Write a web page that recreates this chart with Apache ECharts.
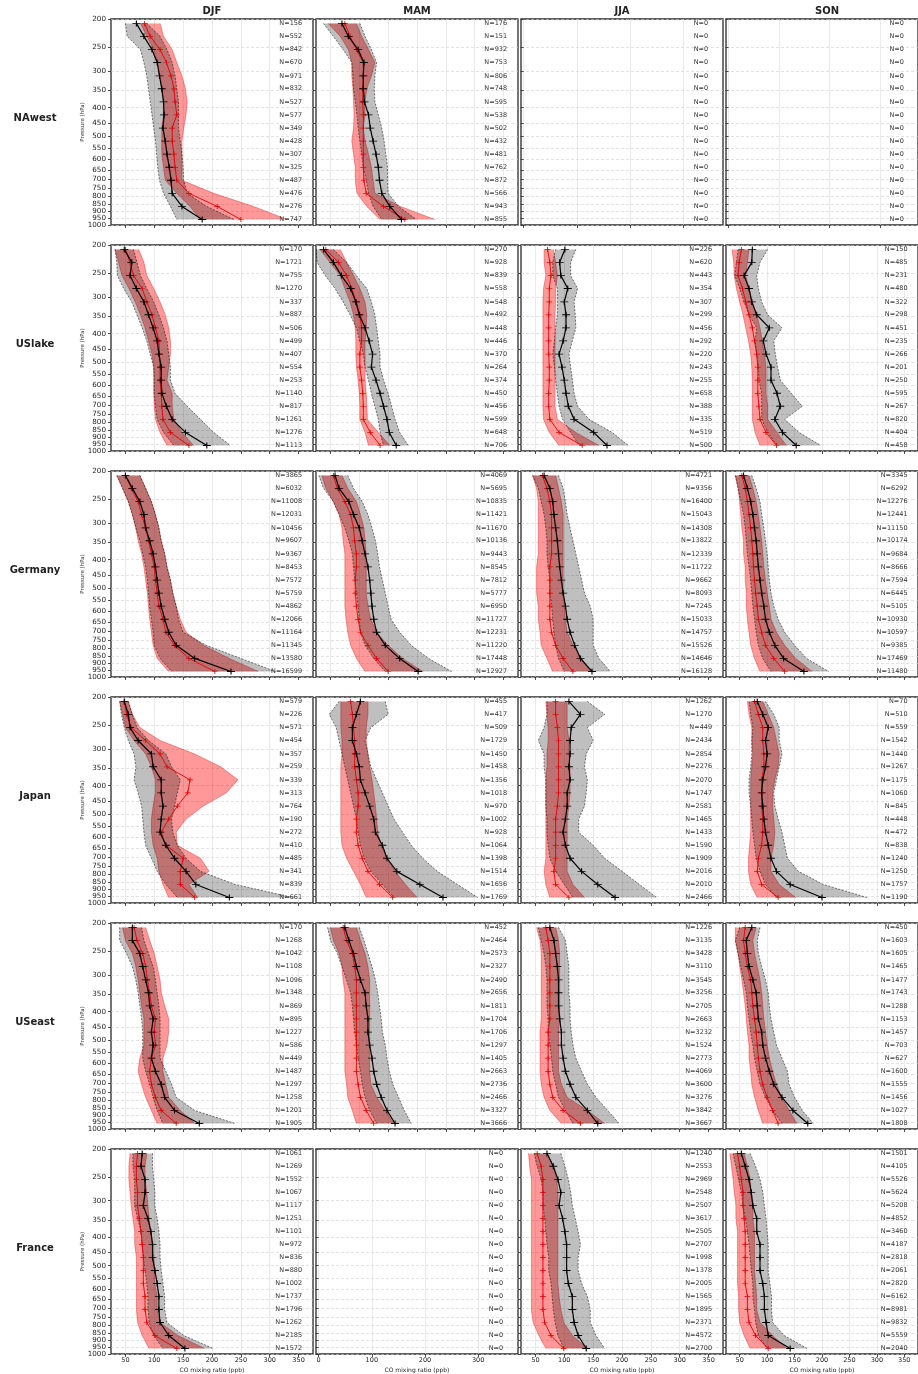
<!DOCTYPE html>
<html><head><meta charset="utf-8">
<script src="https://cdn.jsdelivr.net/npm/echarts@6/dist/echarts.min.js"></script>
<style>html,body{margin:0;padding:0;background:#fff}#c{width:918px;height:1374px}</style>
</head><body><div id="c"></div><script>
const REGIONS = ['NAwest','USlake','Germany','Japan','USeast','France'];
const SEASONS = ['DJF','MAM','JJA','SON'];
const LEVELS = [207,229,254,281,312,345,382,423,469,519,575,637,705,781,865,958];
const Y_TICKS = [200,250,300,350,400,450,500,550,600,650,700,750,800,850,900,950,1000];
const X_TICKS = [50,100,150,200,250,300,350];
const X_TICKS_EMPTY = [0,100,200,300];
const EMPTY_N = [0,0,0,0,0,0,0,0,0,0,0,0,0,0,0,0];

// K = black median, KL/KH = black band, R = red median, RL/RH = red band, N = counts
const NAWEST_DJF_K  = [69,82,96,105,109,113,116,117,115,119,122,126,129,131,148,183];
const NAWEST_DJF_KL = [50,53,76,82,87,90,93,96,99,102,104,106,109,116,128,139];
const NAWEST_DJF_KH = [87,110,122,131,136,139,142,142,142,145,148,150,151,157,191,238];
const NAWEST_DJF_R  = [83,93,110,121,129,134,136,139,131,131,134,136,139,160,209,250];
const NAWEST_DJF_RL = [76,87,99,105,110,113,116,116,113,113,113,116,119,139,162,180];
const NAWEST_DJF_RH = [110,116,131,139,148,154,157,155,151,148,148,148,148,203,272,330];
const NAWEST_DJF_N  = [156,552,842,670,971,832,527,577,349,428,307,325,487,476,276,747];

const NAWEST_MAM_K  = [70,81,98,108,107,107,109,116,119,124,129,133,135,139,153,173];
const NAWEST_MAM_KL = [38,55,72,87,89,90,93,96,98,101,104,107,112,116,124,139];
const NAWEST_MAM_KH = [101,110,121,130,127,126,127,133,139,143,146,149,149,150,168,199];
const NAWEST_MAM_R  = [75,84,95,107,107,106,106,107,107,107,107,107,108,112,142,179];
const NAWEST_MAM_RL = [46,67,81,87,87,89,90,91,90,87,90,93,93,96,113,136];
const NAWEST_MAM_RH = [95,104,116,127,121,113,110,110,107,110,116,121,124,127,171,231];
const NAWEST_MAM_N  = [176,151,932,753,806,748,595,538,502,432,481,762,872,566,943,855];

const USLAKE_DJF_K  = [48,61,58,69,82,90,98,105,108,112,112,113,121,131,154,191];
const USLAKE_DJF_KL = [32,35,36,47,61,70,79,87,93,99,100,100,102,105,116,134];
const USLAKE_DJF_KH = [64,70,76,87,99,108,116,122,125,128,128,136,157,180,203,232];
const USLAKE_DJF_R  = [50,58,64,79,87,96,102,108,109,110,110,112,113,115,128,160];
const USLAKE_DJF_RL = [32,38,44,56,67,76,84,90,96,99,99,99,100,102,110,122];
const USLAKE_DJF_RH = [73,82,87,99,110,119,125,128,128,125,122,131,131,134,148,168];
const USLAKE_DJF_N  = [170,1721,755,1270,337,887,506,499,407,554,253,1140,817,1261,1276,1113];

const USLAKE_MAM_K  = [38,55,69,85,94,100,110,117,123,121,129,136,142,148,152,164];
const USLAKE_MAM_KL = [25,27,41,58,72,84,95,101,107,110,116,121,127,133,136,142];
const USLAKE_MAM_KH = [55,78,95,113,121,127,130,133,136,136,142,150,156,162,170,185];
const USLAKE_MAM_R  = [42,64,78,87,95,101,104,104,101,101,104,106,107,107,119,136];
const USLAKE_MAM_RL = [32,49,67,75,84,90,93,94,94,95,98,100,101,101,110,116];
const USLAKE_MAM_RH = [67,78,90,101,110,113,112,110,110,110,110,112,113,114,133,153];
const USLAKE_MAM_N  = [270,928,839,558,548,492,448,446,370,264,374,450,456,599,648,706];

const USLAKE_JJA_K  = [101,92,94,106,100,103,103,98,91,96,100,103,107,117,151,174];
const USLAKE_JJA_KL = [85,80,80,88,88,88,85,83,80,83,85,88,91,97,111,126];
const USLAKE_JJA_KH = [120,111,111,123,117,119,120,114,108,111,114,117,123,143,183,211];
const USLAKE_JJA_R  = [71,75,77,74,74,73,73,73,73,74,74,73,73,75,91,131];
const USLAKE_JJA_RL = [65,65,68,64,63,63,63,63,63,63,63,63,63,64,74,91];
const USLAKE_JJA_RH = [81,85,88,85,85,84,84,84,84,84,84,84,84,88,120,160];
const USLAKE_JJA_N  = [226,620,443,354,307,299,456,292,220,243,255,658,388,335,519,500];

const USLAKE_SON_K  = [73,72,58,67,72,81,104,93,98,107,107,118,124,114,128,153];
const USLAKE_SON_KL = [47,44,41,50,58,67,81,78,81,84,85,90,90,90,101,118];
const USLAKE_SON_KH = [101,87,81,84,90,101,127,112,115,119,124,144,164,132,158,198];
const USLAKE_SON_R  = [53,49,47,55,61,67,73,77,81,83,83,83,85,87,98,117];
const USLAKE_SON_RL = [36,39,40,44,50,56,61,66,70,72,73,73,73,73,78,87];
const USLAKE_SON_RH = [67,64,61,67,73,81,87,91,95,98,98,98,101,101,118,135];
const USLAKE_SON_N  = [150,485,231,480,322,298,451,235,266,201,250,595,267,820,404,458];

const GERMANY_DJF_K  = [50,62,75,82,85,92,98,102,105,108,112,118,125,138,170,233];
const GERMANY_DJF_KL = [35,45,55,62,68,75,80,85,88,90,92,95,98,100,110,130];
const GERMANY_DJF_KH = [75,85,95,102,108,112,118,122,128,132,138,142,150,190,250,310];
const GERMANY_DJF_R  = [50,60,72,78,85,90,95,100,102,105,108,115,120,135,160,205];
const GERMANY_DJF_RL = [35,45,55,62,68,72,78,82,85,88,90,92,95,98,105,125];
const GERMANY_DJF_RH = [75,85,95,102,108,112,118,122,128,132,138,145,155,185,230,280];
const GERMANY_DJF_N  = [3865,6032,11008,12031,10456,9607,9367,8453,7572,5759,4862,12066,11164,11345,13580,16599];

const GERMANY_MAM_K  = [58,65,82,90,100,105,110,115,118,120,122,125,130,145,170,202];
const GERMANY_MAM_KL = [30,38,55,65,75,82,88,90,92,95,98,100,102,110,125,145];
const GERMANY_MAM_KH = [80,90,105,115,122,128,132,135,140,145,150,155,170,190,220,260];
const GERMANY_MAM_R  = [55,62,75,85,90,92,95,95,93,93,95,98,102,115,130,150];
const GERMANY_MAM_RL = [35,42,55,65,70,72,75,75,75,75,75,77,80,85,95,110];
const GERMANY_MAM_RH = [70,80,95,102,108,110,112,112,112,112,115,120,130,150,175,210];
const GERMANY_MAM_N  = [4069,5695,10835,11421,11670,10136,9443,8545,7812,5777,6950,11727,12231,11220,17448,12927];

const GERMANY_JJA_K  = [65,75,80,82,85,88,90,92,95,98,102,105,110,118,128,148];
const GERMANY_JJA_KL = [45,55,60,65,68,70,70,72,75,75,78,80,82,85,90,100];
const GERMANY_JJA_KH = [90,98,102,105,110,115,120,125,130,135,145,150,150,150,160,180];
const GERMANY_JJA_R  = [62,70,75,78,78,78,78,75,75,75,75,75,78,85,98,115];
const GERMANY_JJA_RL = [45,52,55,55,55,55,55,52,52,52,55,55,58,60,70,80];
const GERMANY_JJA_RH = [85,90,95,98,98,98,98,98,98,98,100,102,105,115,130,145];
const GERMANY_JJA_N  = [4721,9356,16400,15043,14308,13822,12339,11722,9662,8093,7245,15033,14757,15526,14646,16128];

const GERMANY_SON_K  = [57,64,70,74,77,80,82,84,87,90,94,97,104,114,130,167];
const GERMANY_SON_KL = [42,47,52,57,60,62,64,67,70,72,74,77,80,84,92,107];
const GERMANY_SON_KH = [72,80,87,90,94,97,100,102,104,107,112,120,132,150,172,212];
const GERMANY_SON_R  = [54,60,64,67,70,72,74,75,77,79,82,84,90,97,112,132];
const GERMANY_SON_RL = [42,47,50,52,54,57,57,60,60,62,62,64,67,70,77,87];
const GERMANY_SON_RH = [67,74,80,84,87,90,92,94,97,100,104,107,117,132,152,182];
const GERMANY_SON_N  = [3345,6292,12276,12441,11150,10174,9684,8666,7594,6445,5105,10930,10597,9385,17469,11480];

const JAPAN_DJF_K  = [48,55,58,72,95,98,112,112,115,112,110,120,135,155,172,230];
const JAPAN_DJF_KL = [40,43,48,55,65,68,65,72,78,80,82,85,95,105,120,140];
const JAPAN_DJF_KH = [55,62,70,90,120,130,145,140,135,130,132,140,155,180,240,340];
const JAPAN_DJF_R  = [48,52,60,85,110,122,162,158,140,125,112,120,150,145,145,170];
const JAPAN_DJF_RL = [40,45,50,65,85,95,102,102,98,95,95,98,105,108,115,125];
const JAPAN_DJF_RH = [55,62,75,110,170,215,245,225,185,155,138,140,180,195,160,175];
const JAPAN_DJF_N  = [579,226,571,454,357,259,339,313,764,190,272,410,485,341,839,661];

const JAPAN_MAM_K  = [102,95,88,88,95,100,102,110,118,125,128,140,148,165,205,245];
const JAPAN_MAM_KL = [65,48,60,65,70,75,80,85,90,95,98,102,108,120,140,160];
const JAPAN_MAM_KH = [145,150,120,110,115,120,130,140,150,160,175,190,210,235,270,305];
const JAPAN_MAM_R  = [85,88,90,92,92,92,95,98,98,95,95,98,105,115,135,158];
const JAPAN_MAM_RL = [68,68,68,70,70,68,68,68,68,68,68,70,78,90,102,112];
const JAPAN_MAM_RH = [115,115,112,112,115,118,122,125,128,130,132,138,148,162,180,200];
const JAPAN_MAM_N  = [455,417,509,1729,1450,1458,1356,1018,970,1002,928,1064,1398,1514,1656,1769];

const JAPAN_JJA_K  = [108,128,112,110,110,108,110,105,105,102,98,102,110,130,158,188];
const JAPAN_JJA_KL = [70,70,65,55,65,65,68,68,68,70,70,72,75,85,100,115];
const JAPAN_JJA_KH = [140,170,140,150,138,135,140,138,135,125,125,150,170,200,230,260];
const JAPAN_JJA_R  = [85,85,88,90,90,90,90,90,88,85,85,85,85,82,85,108];
const JAPAN_JJA_RL = [68,70,72,72,70,70,68,68,68,68,68,68,68,65,68,75];
const JAPAN_JJA_RH = [105,105,105,108,108,110,110,110,108,105,105,105,105,105,115,135];
const JAPAN_JJA_N  = [1262,1270,449,2434,2854,2276,2070,1747,2581,1465,1433,1590,1909,2016,2010,2466];

const JAPAN_SON_K  = [82,92,102,97,100,97,92,90,92,94,97,102,107,117,142,200];
const JAPAN_SON_KL = [67,70,74,72,72,70,67,67,70,72,74,77,80,87,97,117];
const JAPAN_SON_KH = [97,112,122,122,127,122,117,112,114,120,127,132,137,157,202,282];
const JAPAN_SON_R  = [77,84,92,92,94,94,90,90,90,92,92,90,84,82,90,120];
const JAPAN_SON_RL = [64,67,72,72,74,72,70,70,70,70,70,68,66,66,70,82];
const JAPAN_SON_RH = [92,102,112,117,122,120,114,110,110,112,114,112,107,107,122,152];
const JAPAN_SON_N  = [70,510,559,1542,1440,1267,1175,1060,845,448,472,838,1240,1250,1757,1190];

const USEAST_DJF_K  = [62,62,75,80,85,90,92,98,95,98,95,102,112,118,135,178];
const USEAST_DJF_KL = [40,40,52,62,68,72,75,78,80,80,80,85,92,98,105,115];
const USEAST_DJF_KH = [78,82,90,98,102,105,108,110,110,110,110,120,130,138,170,240];
const USEAST_DJF_R  = [65,70,80,85,88,92,95,102,100,102,95,92,95,102,112,138];
const USEAST_DJF_RL = [45,50,62,68,72,75,78,82,82,82,75,72,78,85,95,105];
const USEAST_DJF_RH = [85,92,100,105,110,112,118,125,125,122,115,115,120,125,145,170];
const USEAST_DJF_N  = [170,1268,1042,1108,1096,1348,869,895,1227,586,449,1487,1297,1258,1201,1905];

const USEAST_MAM_K  = [75,82,90,95,102,110,112,115,115,118,122,125,130,138,148,162];
const USEAST_MAM_KL = [45,50,62,70,78,85,88,90,92,95,98,102,105,110,118,130];
const USEAST_MAM_KH = [100,108,115,122,128,132,135,138,140,145,148,152,158,168,178,190];
const USEAST_MAM_R  = [72,78,88,92,95,95,95,95,95,95,95,95,98,102,112,125];
const USEAST_MAM_RL = [50,55,65,70,72,75,75,75,75,75,75,75,78,80,88,95];
const USEAST_MAM_RH = [95,102,110,115,118,118,118,118,118,118,118,118,120,130,145,160];
const USEAST_MAM_N  = [452,2464,2573,2327,2490,2656,1811,1704,1706,1297,1405,2663,2736,2466,3327,3666];

const USEAST_JJA_K  = [75,82,85,88,90,90,90,92,95,95,98,102,110,120,140,158];
const USEAST_JJA_KL = [55,60,65,68,70,70,70,72,72,75,78,80,85,90,102,115];
const USEAST_JJA_KH = [90,102,105,108,108,108,110,110,112,115,120,130,140,155,175,195];
const USEAST_JJA_R  = [68,72,75,75,75,75,75,75,72,72,72,72,75,80,98,128];
const USEAST_JJA_RL = [52,58,60,60,60,60,60,60,58,58,58,58,60,65,75,95];
const USEAST_JJA_RH = [85,90,92,92,92,92,92,92,90,90,90,90,95,105,140,170];
const USEAST_JJA_N  = [1226,3135,3428,3110,3545,3256,2705,2663,3232,1524,2773,4069,3600,3276,3842,3667];

const USEAST_SON_K  = [72,62,64,67,74,80,82,84,90,92,97,104,112,127,147,174];
const USEAST_SON_KL = [50,42,47,52,57,62,64,67,70,74,77,82,87,97,110,127];
const USEAST_SON_KH = [87,82,84,90,97,102,104,107,112,117,127,137,140,150,164,184];
const USEAST_SON_R  = [60,57,60,64,70,72,74,77,80,82,84,87,92,100,110,120];
const USEAST_SON_RL = [42,42,47,50,54,57,60,62,64,67,67,70,72,77,84,92];
const USEAST_SON_RH = [80,74,77,82,87,90,92,94,97,100,104,110,117,127,140,154];
const USEAST_SON_N  = [450,1603,1605,1465,1477,1743,1288,1153,1457,703,627,1600,1555,1456,1027,1808];

const FRANCE_DJF_K  = [79,77,84,84,81,89,94,97,97,101,105,108,108,110,125,153];
const FRANCE_DJF_KL = [63,63,66,66,66,71,77,79,81,84,87,89,89,91,99,115];
const FRANCE_DJF_KH = [97,97,99,101,101,105,108,110,110,112,115,118,118,122,151,202];
const FRANCE_DJF_R  = [71,69,69,71,71,74,77,79,81,81,81,84,84,87,101,139];
const FRANCE_DJF_RL = [58,56,56,58,60,63,66,66,69,69,69,69,69,71,79,91];
const FRANCE_DJF_RH = [87,84,84,87,89,91,94,97,99,101,101,105,105,110,141,187];
const FRANCE_DJF_N  = [1061,1269,1552,1067,1117,1251,1101,972,836,880,1002,1737,1796,1262,2185,1572];

const FRANCE_JJA_K  = [70,81,89,94,91,97,101,104,104,104,107,114,114,117,124,138];
const FRANCE_JJA_KL = [48,53,60,63,63,66,68,70,73,73,77,79,81,84,89,99];
const FRANCE_JJA_KH = [94,101,107,111,114,119,124,128,124,124,130,140,145,145,155,170];
const FRANCE_JJA_R  = [53,60,63,63,63,63,63,63,63,63,63,63,63,66,77,99];
const FRANCE_JJA_RL = [38,40,43,43,43,43,43,43,43,43,43,43,43,46,56,68];
const FRANCE_JJA_RH = [70,81,87,89,89,89,89,89,89,89,89,91,94,99,114,140];
const FRANCE_JJA_N  = [1240,2553,2969,2548,2507,3617,2505,2707,1998,1378,2005,1565,1895,2371,4572,2700];

const FRANCE_SON_K  = [53,60,67,71,74,81,81,87,87,87,92,95,95,98,102,142];
const FRANCE_SON_KL = [38,43,48,53,56,60,64,67,69,71,74,74,77,79,84,100];
const FRANCE_SON_KH = [69,79,87,92,95,98,100,102,102,102,105,108,108,110,131,173];
const FRANCE_SON_R  = [46,50,53,56,56,58,60,60,60,60,60,64,64,67,79,102];
const FRANCE_SON_RL = [32,35,38,40,43,43,46,46,46,46,46,48,48,50,58,69];
const FRANCE_SON_RH = [58,64,69,71,74,74,77,77,77,77,79,81,81,87,110,136];
const FRANCE_SON_N  = [1501,4105,5526,5624,5208,4852,3460,4187,2818,2061,2820,6162,8981,9832,5559,2040];

// panel lookup: [K, KL, KH, R, RL, RH, N]; panels not listed have no data
const PANELS = {
  'NAwest|DJF': [NAWEST_DJF_K,NAWEST_DJF_KL,NAWEST_DJF_KH,NAWEST_DJF_R,NAWEST_DJF_RL,NAWEST_DJF_RH,NAWEST_DJF_N],
  'NAwest|MAM': [NAWEST_MAM_K,NAWEST_MAM_KL,NAWEST_MAM_KH,NAWEST_MAM_R,NAWEST_MAM_RL,NAWEST_MAM_RH,NAWEST_MAM_N],
  'USlake|DJF': [USLAKE_DJF_K,USLAKE_DJF_KL,USLAKE_DJF_KH,USLAKE_DJF_R,USLAKE_DJF_RL,USLAKE_DJF_RH,USLAKE_DJF_N],
  'USlake|MAM': [USLAKE_MAM_K,USLAKE_MAM_KL,USLAKE_MAM_KH,USLAKE_MAM_R,USLAKE_MAM_RL,USLAKE_MAM_RH,USLAKE_MAM_N],
  'USlake|JJA': [USLAKE_JJA_K,USLAKE_JJA_KL,USLAKE_JJA_KH,USLAKE_JJA_R,USLAKE_JJA_RL,USLAKE_JJA_RH,USLAKE_JJA_N],
  'USlake|SON': [USLAKE_SON_K,USLAKE_SON_KL,USLAKE_SON_KH,USLAKE_SON_R,USLAKE_SON_RL,USLAKE_SON_RH,USLAKE_SON_N],
  'Germany|DJF': [GERMANY_DJF_K,GERMANY_DJF_KL,GERMANY_DJF_KH,GERMANY_DJF_R,GERMANY_DJF_RL,GERMANY_DJF_RH,GERMANY_DJF_N],
  'Germany|MAM': [GERMANY_MAM_K,GERMANY_MAM_KL,GERMANY_MAM_KH,GERMANY_MAM_R,GERMANY_MAM_RL,GERMANY_MAM_RH,GERMANY_MAM_N],
  'Germany|JJA': [GERMANY_JJA_K,GERMANY_JJA_KL,GERMANY_JJA_KH,GERMANY_JJA_R,GERMANY_JJA_RL,GERMANY_JJA_RH,GERMANY_JJA_N],
  'Germany|SON': [GERMANY_SON_K,GERMANY_SON_KL,GERMANY_SON_KH,GERMANY_SON_R,GERMANY_SON_RL,GERMANY_SON_RH,GERMANY_SON_N],
  'Japan|DJF': [JAPAN_DJF_K,JAPAN_DJF_KL,JAPAN_DJF_KH,JAPAN_DJF_R,JAPAN_DJF_RL,JAPAN_DJF_RH,JAPAN_DJF_N],
  'Japan|MAM': [JAPAN_MAM_K,JAPAN_MAM_KL,JAPAN_MAM_KH,JAPAN_MAM_R,JAPAN_MAM_RL,JAPAN_MAM_RH,JAPAN_MAM_N],
  'Japan|JJA': [JAPAN_JJA_K,JAPAN_JJA_KL,JAPAN_JJA_KH,JAPAN_JJA_R,JAPAN_JJA_RL,JAPAN_JJA_RH,JAPAN_JJA_N],
  'Japan|SON': [JAPAN_SON_K,JAPAN_SON_KL,JAPAN_SON_KH,JAPAN_SON_R,JAPAN_SON_RL,JAPAN_SON_RH,JAPAN_SON_N],
  'USeast|DJF': [USEAST_DJF_K,USEAST_DJF_KL,USEAST_DJF_KH,USEAST_DJF_R,USEAST_DJF_RL,USEAST_DJF_RH,USEAST_DJF_N],
  'USeast|MAM': [USEAST_MAM_K,USEAST_MAM_KL,USEAST_MAM_KH,USEAST_MAM_R,USEAST_MAM_RL,USEAST_MAM_RH,USEAST_MAM_N],
  'USeast|JJA': [USEAST_JJA_K,USEAST_JJA_KL,USEAST_JJA_KH,USEAST_JJA_R,USEAST_JJA_RL,USEAST_JJA_RH,USEAST_JJA_N],
  'USeast|SON': [USEAST_SON_K,USEAST_SON_KL,USEAST_SON_KH,USEAST_SON_R,USEAST_SON_RL,USEAST_SON_RH,USEAST_SON_N],
  'France|DJF': [FRANCE_DJF_K,FRANCE_DJF_KL,FRANCE_DJF_KH,FRANCE_DJF_R,FRANCE_DJF_RL,FRANCE_DJF_RH,FRANCE_DJF_N],
  'France|JJA': [FRANCE_JJA_K,FRANCE_JJA_KL,FRANCE_JJA_KH,FRANCE_JJA_R,FRANCE_JJA_RL,FRANCE_JJA_RH,FRANCE_JJA_N],
  'France|SON': [FRANCE_SON_K,FRANCE_SON_KL,FRANCE_SON_KH,FRANCE_SON_R,FRANCE_SON_RL,FRANCE_SON_RH,FRANCE_SON_N]
};

// ---------- layout / style ----------
const FONT = '"DejaVu Sans", sans-serif';
const GRID_LEFT = [111, 316, 521, 726];
const GRID_TOP = [19, 245, 471, 697, 923, 1149];
const GRID_W = 202, GRID_H = 206;
const N_X_DATA = 356, N_X_EMPTY = 347;
const PLUS = 'path://M0,4.3H10V5.7H0ZM4.3,0H5.7V10H4.3Z';

const grids = [], xAxes = [], yAxes = [], series = [], graphics = [];

function bandSeries(k, lo, hi, fill, stroke, dash, z) {
  return {
    type: 'custom', xAxisIndex: k, yAxisIndex: k, silent: true, z: z, clip: true,
    data: [[lo[0], LEVELS[0]]],
    renderItem: function (params, api) {
      const left = LEVELS.map((p, i) => api.coord([lo[i], p]));
      const right = LEVELS.map((p, i) => api.coord([hi[i], p]));
      const poly = left.concat(right.slice().reverse());
      return {
        type: 'group', children: [
          { type: 'polygon', shape: { points: poly }, style: { fill: fill, stroke: null } },
          { type: 'polyline', shape: { points: left }, style: { fill: null, stroke: stroke, lineWidth: 0.7, lineDash: dash } },
          { type: 'polyline', shape: { points: right }, style: { fill: null, stroke: stroke, lineWidth: 0.7, lineDash: dash } }
        ]
      };
    }
  };
}

function lineSeries(k, vals, color, width, size, z) {
  return {
    type: 'line', xAxisIndex: k, yAxisIndex: k, silent: true, z: z,
    data: LEVELS.map((p, i) => [vals[i], p]),
    symbol: PLUS, symbolSize: size, showSymbol: true,
    lineStyle: { color: color, width: width },
    itemStyle: { color: color },
    animation: false
  };
}

function nSeries(k, counts, nx) {
  return {
    type: 'custom', xAxisIndex: k, yAxisIndex: k, silent: true, z: 20,
    data: LEVELS.map((p, i) => [nx, p, counts[i]]),
    renderItem: function (params, api) {
      const pt = api.coord([api.value(0), api.value(1)]);
      return {
        type: 'text', x: pt[0], y: pt[1],
        style: { text: 'N=' + api.value(2), align: 'right', verticalAlign: 'middle',
                 fontSize: 6.5, fontFamily: FONT, fill: '#333' }
      };
    }
  };
}

// pressure tick labels drawn through the y scale (all 17 shown, as in the reference)
function yLabelSeries(k, xmin) {
  return {
    type: 'custom', xAxisIndex: k, yAxisIndex: k, silent: true, z: 20, clip: false,
    data: Y_TICKS.map(p => [xmin, p]),
    renderItem: function (params, api) {
      const pt = api.coord([api.value(0), api.value(1)]);
      return {
        type: 'text', x: pt[0] - 5, y: pt[1],
        style: { text: String(api.value(1)), align: 'right', verticalAlign: 'middle',
                 fontSize: 7.2, fontFamily: FONT, fill: '#222' }
      };
    }
  };
}

REGIONS.forEach((region, r) => {
  SEASONS.forEach((season, c) => {
    const k = r * SEASONS.length + c;
    const d = PANELS[region + '|' + season] || null;
    const empty = d === null;
    const xmin = empty ? -5 : 25;
    grids.push({ left: GRID_LEFT[c], top: GRID_TOP[r], width: GRID_W, height: GRID_H,
                 show: true, borderColor: '#2a2a2a', borderWidth: 1.3, backgroundColor: 'transparent' });
    const xt = empty ? X_TICKS_EMPTY : X_TICKS;
    xAxes.push({
      type: 'value', gridIndex: k, min: xmin, max: 375,
      axisLine: { show: false },
      axisTick: { show: true, customValues: xt, length: 3, lineStyle: { color: '#222', width: 0.8 } },
      axisLabel: { show: r === REGIONS.length - 1, customValues: xt, fontSize: 6.5, fontFamily: FONT, color: '#222', margin: 3,
                   showMinLabel: true, showMaxLabel: true },
      splitLine: { show: true, lineStyle: { color: '#dcdcdc', width: 0.6 } },
      name: r === REGIONS.length - 1 ? 'CO mixing ratio (ppb)' : '',
      nameLocation: 'middle', nameGap: 13,
      nameTextStyle: { fontSize: 6, fontFamily: FONT, color: '#222' }
    });
    yAxes.push({
      type: 'log', logBase: 10, gridIndex: k, min: 200, max: 1000.01, inverse: true,
      axisLine: { show: false },
      axisTick: { show: true, customValues: Y_TICKS, length: 3, lineStyle: { color: '#222', width: 0.8 } },
      axisLabel: { show: false, customValues: Y_TICKS },
      splitLine: { show: true, lineStyle: { color: '#cfcfcf', width: 0.6, type: [3, 2] } },
      name: c === 0 ? 'Pressure (hPa)' : '',
      nameLocation: 'middle', nameGap: 25, nameRotate: 90,
      nameTextStyle: { fontSize: 5.5, fontFamily: FONT, color: '#333' }
    });
    if (!empty) {
      series.push(bandSeries(k, d[4], d[5], 'rgba(255,0,0,0.4)', 'rgba(210,0,0,0.5)', null, 2));
      series.push(bandSeries(k, d[1], d[2], 'rgba(0,0,0,0.25)', 'rgba(0,0,0,0.75)', [2, 1.5], 3));
      series.push(lineSeries(k, d[3], '#e00000', 0.9, [6, 5], 4));
      series.push(lineSeries(k, d[0], '#000000', 1.2, [8, 6], 5));
    }
    series.push(nSeries(k, empty ? EMPTY_N : d[6], empty ? N_X_EMPTY : N_X_DATA));
    if (c === 0) series.push(yLabelSeries(k, xmin));
  });
});

SEASONS.forEach((s, c) => {
  graphics.push({ type: 'text', x: GRID_LEFT[c] + GRID_W / 2, y: 11,
    style: { text: s, fontSize: 10, fontWeight: 'bold', fontFamily: FONT, fill: '#222', align: 'center', verticalAlign: 'middle' } });
});
REGIONS.forEach((reg, r) => {
  graphics.push({ type: 'text', x: 35, y: GRID_TOP[r] + GRID_H / 2 - 4,
    style: { text: reg, fontSize: 10, fontWeight: 'bold', fontFamily: FONT, fill: '#222', align: 'center', verticalAlign: 'middle' } });
});

const chart = echarts.init(document.getElementById('c'), null, { renderer: 'canvas' });
chart.setOption({
  animation: false,
  backgroundColor: '#ffffff',
  grid: grids, xAxis: xAxes, yAxis: yAxes, series: series, graphic: graphics
});
</script></body></html>
